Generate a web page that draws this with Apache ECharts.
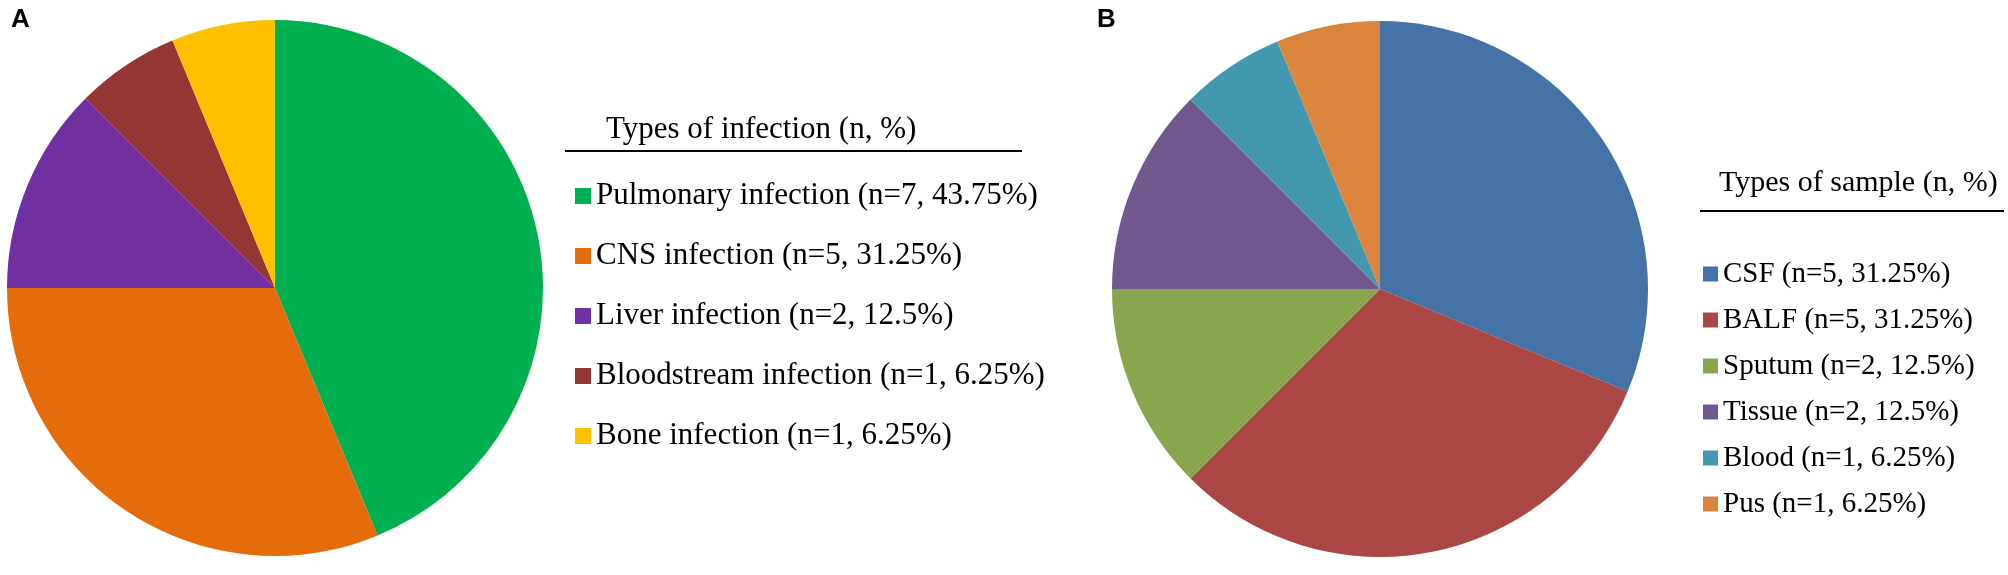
<!DOCTYPE html>
<html>
<head>
<meta charset="utf-8">
<title>Types of infection / Types of sample</title>
<script src="https://cdn.jsdelivr.net/npm/echarts@6/dist/echarts.min.js"></script>
<style>
    html, body { margin: 0; padding: 0; background: #fff; }
    #chart { width: 2008px; height: 575px; }
</style>
</head>
<body>
<div id="chart"></div>
<script>
// panel A - types of infection
var infectionNames = ['Pulmonary infection', 'CNS infection', 'Liver infection', 'Bloodstream infection', 'Bone infection'];
var infectionCounts = [7, 5, 2, 1, 1];
var infectionPct = ['43.75%', '31.25%', '12.5%', '6.25%', '6.25%'];
var infectionColors = ['#00b050', '#e46c0a', '#7030a0', '#943634', '#ffc000'];

// panel B - types of sample
var sampleNames = ['CSF', 'BALF', 'Sputum', 'Tissue', 'Blood', 'Pus'];
var sampleCounts = [5, 5, 2, 2, 1, 1];
var samplePct = ['31.25%', '31.25%', '12.5%', '12.5%', '6.25%', '6.25%'];
var sampleColors = ['#4572a7', '#aa4643', '#89a54e', '#71588f', '#4198af', '#db843d'];

var serif = '"Liberation Serif", "Times New Roman", serif';

function pieData(names, counts, colors) {
    return names.map(function (n, i) {
        return { name: n, value: counts[i], itemStyle: { color: colors[i] } };
    });
}

function legendFmt(names, counts, pct) {
    return function (name) {
        var i = names.indexOf(name);
        return name + ' (n=' + counts[i] + ', ' + pct[i] + ')';
    };
}

var chart = echarts.init(document.getElementById('chart'));

var option = {
    animation: false,
    title: [
        { text: 'A', left: 6, top: 2, textStyle: { fontFamily: 'Liberation Sans', fontWeight: 'bold', fontSize: 26, color: '#000' } },
        { text: 'B', left: 1092, top: 2, textStyle: { fontFamily: 'Liberation Sans', fontWeight: 'bold', fontSize: 26, color: '#000' } },
        { text: 'Types of infection (n, %)', left: 606, top: 112, padding: 0,
          textStyle: { fontFamily: serif, fontWeight: 'normal', fontSize: 31, lineHeight: 36, color: '#000' } },
        { text: 'Types of sample (n, %)', left: 1719, top: 165, padding: 0,
          textStyle: { fontFamily: serif, fontWeight: 'normal', fontSize: 30, lineHeight: 36, color: '#000' } }
    ],
    legend: [
        {
            data: infectionNames,
            orient: 'vertical',
            left: 575,
            top: 178,
            padding: 0,
            itemWidth: 16,
            itemHeight: 16,
            itemGap: 24,
            icon: 'rect',
            selectedMode: false,
            formatter: legendFmt(infectionNames, infectionCounts, infectionPct),
            textStyle: { fontFamily: serif, fontSize: 31, lineHeight: 36, color: '#000' }
        },
        {
            data: sampleNames,
            orient: 'vertical',
            left: 1703,
            top: 257,
            padding: 0,
            itemWidth: 15,
            itemHeight: 15,
            itemGap: 12,
            icon: 'rect',
            selectedMode: false,
            formatter: legendFmt(sampleNames, sampleCounts, samplePct),
            textStyle: { fontFamily: serif, fontSize: 29, lineHeight: 34, color: '#000' }
        }
    ],
    graphic: [
        { type: 'line', shape: { x1: 565, y1: 151, x2: 1022, y2: 151 }, style: { stroke: '#000', lineWidth: 2 } },
        { type: 'line', shape: { x1: 1700, y1: 211, x2: 2004, y2: 211 }, style: { stroke: '#000', lineWidth: 2 } }
    ],
    series: [
        {
            name: 'infection',
            type: 'pie',
            center: [275, 288],
            radius: 268,
            startAngle: 90,
            clockwise: true,
            label: { show: false },
            labelLine: { show: false },
            emphasis: { disabled: true },
            itemStyle: { borderWidth: 0 },
            data: pieData(infectionNames, infectionCounts, infectionColors)
        },
        {
            name: 'sample',
            type: 'pie',
            center: [1380, 289],
            radius: 268,
            startAngle: 90,
            clockwise: true,
            label: { show: false },
            labelLine: { show: false },
            emphasis: { disabled: true },
            itemStyle: { borderWidth: 0 },
            data: pieData(sampleNames, sampleCounts, sampleColors)
        }
    ]
};

chart.setOption(option, true);
</script>
</body>
</html>
